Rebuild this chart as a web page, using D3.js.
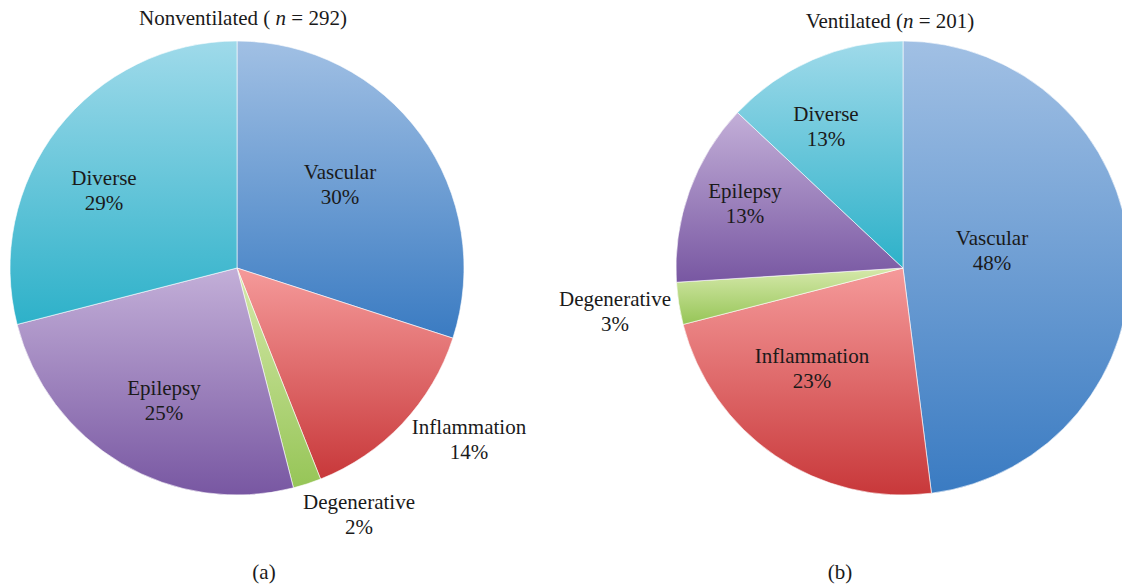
<!DOCTYPE html>
<html>
<head>
<meta charset="utf-8">
<script src="https://cdn.jsdelivr.net/npm/d3@7"></script>
<style>
  html, body { margin: 0; padding: 0; background: #fff; }
  svg { display: block; }
  text { font-family: "Liberation Serif", "Times New Roman", serif; fill: #1a1a1a; }
</style>
</head>
<body>
<svg id="chart" width="1122" height="586"></svg>
<script>
// ---- data ----
const categories = ["Vascular", "Inflammation", "Degenerative", "Epilepsy", "Diverse"];
const nonventilatedValues = [30, 14, 2, 25, 29];
const ventilatedValues = [48, 23, 3, 13, 13];
const titles = [
  { pre: "Nonventilated ( ", n: "n", post: " = 292)" },
  { pre: "Ventilated (", n: "n", post: " = 201)" }
];
const panelLabels = ["(a)", "(b)"];

// ---- styles / layout (kept separate from data) ----
const colorTop = ["#a1c0e4", "#f59a9a", "#d6e9ab", "#c3afd8", "#9fdaea"];
const colorBottom = ["#3a7bc2", "#c8383a", "#96c557", "#7857a2", "#2db1c9"];
const panels = [
  { cx: 237, cy: 268, r: 227, titleX: 243, titleY: 25, subX: 264, subY: 579,
    // label offsets from pie centre [dx, dy] (centre of the two-line block)
    labelPos: [[103, -84], [232, 171], [122, 246], [-73, 132], [-133, -78]] },
  { cx: 903, cy: 268, r: 227, titleX: 890, titleY: 28, subX: 840, subY: 579,
    labelPos: [[89, -18], [-91, 100], [-288, 43], [-158, -65], [-77, -142]] }
];
const fontSize = 21;
const lineGap = 25;

const svg = d3.select("#chart");
const defs = svg.append("defs");
categories.forEach((c, i) => {
  const g = defs.append("linearGradient")
    .attr("id", "grad" + i)
    .attr("x1", 0).attr("y1", 0).attr("x2", 0).attr("y2", 1);
  g.append("stop").attr("offset", "0%").attr("stop-color", colorTop[i]);
  g.append("stop").attr("offset", "100%").attr("stop-color", colorBottom[i]);
});
defs.append("clipPath").attr("id", "clip")
  .append("rect").attr("x", 0).attr("y", 0).attr("width", 1122).attr("height", 586);

const pie = d3.pie().sort(null).value(d => d);
const datasets = [nonventilatedValues, ventilatedValues];

datasets.forEach((vals, p) => {
  const P = panels[p];
  const arc = d3.arc().innerRadius(0).outerRadius(P.r);
  const g = svg.append("g").attr("clip-path", "url(#clip)")
    .append("g").attr("transform", `translate(${P.cx},${P.cy})`);
  g.selectAll("path.slice")
    .data(pie(vals))
    .join("path")
    .attr("class", "slice")
    .attr("d", arc)
    .attr("fill", (d, i) => `url(#grad${i})`)
    .attr("stroke", "#ffffff")
    .attr("stroke-width", 0.6);

  const lab = g.selectAll("g.lab")
    .data(pie(vals))
    .join("g")
    .attr("class", "lab")
    .attr("transform", (d, i) => `translate(${P.labelPos[i][0]},${P.labelPos[i][1]})`);
  lab.append("text")
    .attr("text-anchor", "middle")
    .attr("y", -lineGap / 2 + 7)
    .attr("font-size", fontSize)
    .text((d, i) => categories[i]);
  lab.append("text")
    .attr("text-anchor", "middle")
    .attr("y", lineGap / 2 + 7)
    .attr("font-size", fontSize)
    .text(d => d.data + "%");

  const t = svg.append("text")
    .attr("x", P.titleX).attr("y", P.titleY)
    .attr("text-anchor", "middle")
    .attr("font-size", fontSize);
  t.append("tspan").text(titles[p].pre);
  t.append("tspan").attr("font-style", "italic").text(titles[p].n);
  t.append("tspan").text(titles[p].post);

  svg.append("text")
    .attr("x", P.subX).attr("y", P.subY)
    .attr("text-anchor", "middle")
    .attr("font-size", fontSize)
    .text(panelLabels[p]);
});
</script>
</body>
</html>
